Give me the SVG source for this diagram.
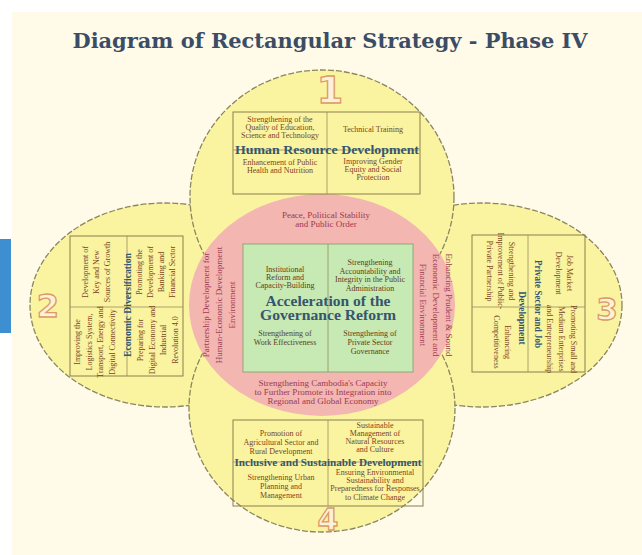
<svg xmlns="http://www.w3.org/2000/svg" width="642" height="555" viewBox="0 0 642 555">
<style>
.s{font-family:"Liberation Serif",serif;font-size:8px;fill:#7a4422;text-anchor:middle}
.g{font-family:"Liberation Serif",serif;font-size:8px;fill:#5e3d1c;text-anchor:middle}
.t{font-family:"Liberation Serif",serif;font-weight:bold;fill:#35566e;text-anchor:middle}
.p{font-family:"Liberation Serif",serif;font-size:9px;fill:#9c3a55;text-anchor:middle}
.lobe{fill:#faf4a0;stroke:#8a8660;stroke-width:1.3;stroke-dasharray:6 2}
.box{fill:none;stroke:#8a7d4e;stroke-width:1}
.div{stroke:#9a8d60;stroke-width:0.8}
.num{font-family:"DejaVu Sans",sans-serif;font-weight:bold;fill:#fdf1d6;stroke:#dc9a68;stroke-width:1.3;text-anchor:middle}
</style>
<rect x="0" y="0" width="642" height="555" fill="#ffffff"/>
<rect x="12" y="12" width="630" height="543" fill="#fffbe8"/>
<rect x="0" y="239" width="11" height="94" fill="#3d8fd1"/>
<text x="330" y="48" font-family="DejaVu Serif, serif" font-weight="bold" font-size="20" fill="#3b4d66" text-anchor="middle" textLength="515" lengthAdjust="spacingAndGlyphs">Diagram of Rectangular Strategy - Phase IV</text>

<g id="lobes">
<ellipse class="lobe" cx="165" cy="305" rx="135" ry="102"/>
<ellipse class="lobe" cx="482" cy="305" rx="140" ry="102"/>
<ellipse class="lobe" cx="322" cy="197" rx="132" ry="127"/>
<ellipse class="lobe" cx="322" cy="408" rx="133" ry="124"/>
</g>

<g id="core">
<ellipse cx="322" cy="305" rx="133" ry="111" fill="#f3b6b0"/>
<text class="p" x="326" y="218" font-size="9.5">Peace, Political Stability</text>
<text class="p" x="326" y="227" font-size="9.5">and Public Order</text>
<text class="p" x="323" y="386" font-size="8.5">Strengthening Cambodia's Capacity</text>
<text class="p" x="323" y="395" font-size="8.5">to Further Promote its Integration into</text>
<text class="p" x="323" y="404" font-size="8.5">Regional and Global Economy</text>
<text class="p" font-size="8.5" transform="translate(206,305) rotate(-90)"><tspan x="0" y="3">Partnership Development for</tspan><tspan x="0" dy="13">Human-Economic Development</tspan><tspan x="0" dy="13">Environment</tspan></text>
<text class="p" font-size="8.5" transform="translate(449,305) rotate(90)"><tspan x="0" y="3">Enhancing Prudent &amp; Sound</tspan><tspan x="0" dy="13">Economic Development and</tspan><tspan x="0" dy="13">Financial Environment</tspan></text>
</g>

<g id="governance">
<rect x="243" y="244" width="170" height="128" fill="#c7e9b3" stroke="#8fa878" stroke-width="1"/>
<line class="div" x1="328" y1="244" x2="328" y2="372"/>
<text class="g"><tspan x="285" y="272">Institutional</tspan><tspan x="285" y="280">Reform and</tspan><tspan x="285" y="288">Capacity-Building</tspan></text>
<text class="g"><tspan x="370" y="265">Strengthening</tspan><tspan x="370" y="274">Accountability and</tspan><tspan x="370" y="282">Integrity in the Public</tspan><tspan x="370" y="291">Administration</tspan></text>
<text class="t" x="328" y="306" font-size="14" fill="#3a6a80" textLength="125" lengthAdjust="spacingAndGlyphs">Acceleration of the</text>
<text class="t" x="328" y="320" font-size="14" fill="#3a6a80" textLength="136" lengthAdjust="spacingAndGlyphs">Governance Reform</text>
<text class="g"><tspan x="285" y="336">Strengthening of</tspan><tspan x="285" y="345">Work Effectiveness</tspan></text>
<text class="g"><tspan x="370" y="336">Strengthening of</tspan><tspan x="370" y="345">Private Sector</tspan><tspan x="370" y="354">Governance</tspan></text>
</g>

<g id="rect1">
<text class="num" x="330" y="103" font-size="38">1</text>
<rect class="box" x="233" y="112" width="187" height="82"/>
<line class="div" x1="327" y1="112" x2="327" y2="194"/>
<line class="div" x1="233" y1="150" x2="420" y2="150"/>
<text class="s"><tspan x="280" y="122">Strengthening of the</tspan><tspan x="280" y="130">Quality of Education,</tspan><tspan x="280" y="138">Science and Technology</tspan></text>
<text class="s" x="373" y="132" font-size="8.5">Technical Training</text>
<text class="t" x="327" y="154" font-size="12.5" textLength="184" lengthAdjust="spacingAndGlyphs">Human Resource Development</text>
<text class="s"><tspan x="280" y="165">Enhancement of Public</tspan><tspan x="280" y="173">Health and Nutrition</tspan></text>
<text class="s"><tspan x="373" y="164">Improving Gender</tspan><tspan x="373" y="172">Equity and Social</tspan><tspan x="373" y="180">Protection</tspan></text>
</g>

<g id="rect2">
<text class="num" x="48" y="317" font-size="32">2</text>
<rect class="box" x="70" y="236" width="113" height="140"/>
<line class="div" x1="70" y1="307" x2="183" y2="307"/>
<line class="div" x1="127" y1="236" x2="127" y2="376"/>
<text class="t" font-size="9.5" transform="translate(127,305) rotate(-90)" x="0" y="3.5" textLength="104" lengthAdjust="spacingAndGlyphs">Economic Diversification</text>
<text class="s" font-size="7.5" transform="translate(85,272) rotate(-90)"><tspan x="0" y="3">Development of</tspan><tspan x="0" dy="11">Key and New</tspan><tspan x="0" dy="11">Sources of Growth</tspan></text>
<text class="s" font-size="7.5" transform="translate(139,272) rotate(-90)"><tspan x="0" y="3">Promoting the</tspan><tspan x="0" dy="11">Development of</tspan><tspan x="0" dy="11">Banking and</tspan><tspan x="0" dy="11">Financial Sector</tspan></text>
<text class="s" font-size="7.5" transform="translate(77,342) rotate(-90)"><tspan x="0" y="3">Improving the</tspan><tspan x="0" dy="11.5">Logistics System,</tspan><tspan x="0" dy="11.5">Transport, Energy and</tspan><tspan x="0" dy="11.5">Digital Connectivity</tspan></text>
<text class="s" font-size="7.5" transform="translate(140,340) rotate(-90)"><tspan x="0" y="3">Preparing for</tspan><tspan x="0" dy="11.5">Digital Economy and</tspan><tspan x="0" dy="11.5">Industrial</tspan><tspan x="0" dy="11.5">Revolution 4.0</tspan></text>
</g>

<g id="rect3">
<text class="num" x="607" y="320" font-size="31">3</text>
<rect class="box" x="472" y="235" width="113" height="137"/>
<line class="div" x1="472" y1="307" x2="585" y2="307"/>
<line class="div" x1="528" y1="235" x2="528" y2="372"/>
<text class="t" font-size="9.5" transform="translate(538,304) rotate(90)" x="0" y="3.5" textLength="88" lengthAdjust="spacingAndGlyphs">Private Sector and Job</text>
<text class="t" font-size="9.5" transform="translate(522,318) rotate(90)" x="0" y="3.5">Development</text>
<text class="s" font-size="7.5" transform="translate(512,271) rotate(90)"><tspan x="0" y="3">Strengthening and</tspan><tspan x="0" dy="11">Improvement of Public-</tspan><tspan x="0" dy="11">Private Partnership</tspan></text>
<text class="s" font-size="7.5" transform="translate(570,273) rotate(90)"><tspan x="0" y="3">Job Market</tspan><tspan x="0" dy="11">Development</tspan></text>
<text class="s" font-size="7.5" transform="translate(508,342) rotate(90)"><tspan x="0" y="3">Enhancing</tspan><tspan x="0" dy="11">Competitiveness</tspan></text>
<text class="s" font-size="6.8" transform="translate(574,339) rotate(90)"><tspan x="0" y="3">Promoting Small and</tspan><tspan x="0" dy="12">Medium Enterprises</tspan><tspan x="0" dy="12">and Entrepreneurship</tspan></text>
</g>

<g id="rect4">
<rect class="box" x="233" y="420" width="190" height="86"/>
<line class="div" x1="328" y1="420" x2="328" y2="506"/>
<line class="div" x1="233" y1="462" x2="423" y2="462"/>
<text class="s"><tspan x="281" y="436">Promotion of</tspan><tspan x="281" y="445">Agricultural Sector and</tspan><tspan x="281" y="454">Rural Development</tspan></text>
<text class="s"><tspan x="375" y="428">Sustainable</tspan><tspan x="375" y="436">Management of</tspan><tspan x="375" y="444">Natural Resources</tspan><tspan x="375" y="452">and Culture</tspan></text>
<text class="t" x="328" y="466" font-size="10.5" textLength="187" lengthAdjust="spacingAndGlyphs">Inclusive and Sustainable Development</text>
<text class="s"><tspan x="281" y="480">Strengthening Urban</tspan><tspan x="281" y="489">Planning and</tspan><tspan x="281" y="498">Management</tspan></text>
<text class="s"><tspan x="375" y="475">Ensuring Environmental</tspan><tspan x="375" y="483">Sustainability and</tspan><tspan x="375" y="491">Preparedness for Responses</tspan><tspan x="375" y="500">to Climate Change</tspan></text>
<text class="num" x="328" y="530" font-size="30">4</text>
</g>
</svg>
